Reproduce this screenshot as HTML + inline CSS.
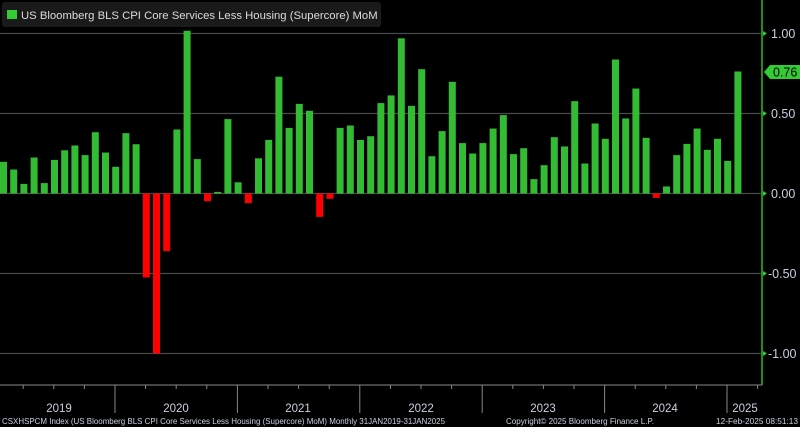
<!DOCTYPE html>
<html><head><meta charset="utf-8"><style>
html,body{margin:0;padding:0;background:#000;}
svg{display:block;font-family:"Liberation Sans",sans-serif;}
</style></head><body>
<svg id="c" width="800" height="427" viewBox="0 0 800 427" xmlns="http://www.w3.org/2000/svg">
<rect width="800" height="427" fill="#000"/>
<g stroke="#4a4a4a" stroke-width="1.3">
<line x1="0" y1="33.5" x2="762" y2="33.5"/>
<line x1="0" y1="113.5" x2="762" y2="113.5"/>
<line x1="0" y1="193.5" x2="762" y2="193.5"/>
<line x1="0" y1="273.5" x2="762" y2="273.5"/>
<line x1="0" y1="353.5" x2="762" y2="353.5"/>
</g>
<g id="bars"></g>
<rect x="2" y="2" width="379" height="25" rx="3" fill="#1a1a1a"/>
<rect x="7" y="10" width="10" height="9" fill="#33cc33"/>
<text x="21" y="19" font-size="11.3" fill="#dcdcdc">US Bloomberg BLS CPI Core Services Less Housing (Supercore) MoM</text>
<line x1="762" y1="0" x2="762" y2="385" stroke="#1e8c1e" stroke-width="2"/>
<g fill="#33cc33">
<polygon points="763,31 767,33.5 763,36"/>
<polygon points="763,111 767,113.5 763,116"/>
<polygon points="763,191 767,193.5 763,196"/>
<polygon points="763,271 767,273.5 763,276"/>
<polygon points="763,351 767,353.5 763,356"/>
<polygon points="764,72 770,65 800,65 800,79 770,79"/>
</g>
<g font-size="12.5" fill="#c8d0e0">
<text x="771" y="38">1.00</text>
<text x="771" y="118">0.50</text>
<text x="771" y="198">0.00</text>
<text x="768" y="278">-0.50</text>
<text x="768" y="358">-1.00</text>
</g>
<text x="773" y="76.5" font-size="12.5" fill="#000">0.76</text>
<line x1="0" y1="385" x2="762" y2="385" stroke="#888" stroke-width="1"/>
<g id="ticks" stroke="#888" stroke-width="1"></g>
<g font-size="11.5" fill="#c8d0e0" text-anchor="middle">
<text x="59" y="412">2019</text>
<text x="176" y="412">2020</text>
<text x="298" y="412">2021</text>
<text x="421" y="412">2022</text>
<text x="543" y="412">2023</text>
<text x="665" y="412">2024</text>
<text x="745" y="412">2025</text>
</g>
<g font-size="8" fill="#c8d0e0">
<text x="2" y="424" textLength="443" lengthAdjust="spacingAndGlyphs">CSXHSPCM Index (US Bloomberg BLS CPI Core Services Less Housing (Supercore) MoM)  Monthly 31JAN2019-31JAN2025</text>
<text x="506" y="424" textLength="148" lengthAdjust="spacingAndGlyphs">Copyright© 2025 Bloomberg Finance L.P.</text>
<text x="716" y="424" textLength="82" lengthAdjust="spacingAndGlyphs">12-Feb-2025 08:51:13</text>
</g>
</svg>
<script>
var v=[0.198,0.15,0.06,0.225,0.065,0.21,0.27,0.30,0.24,0.383,0.256,0.167,0.377,0.308,-0.525,-1.0,-0.36,0.40,1.017,0.215,-0.048,0.01,0.465,0.07,-0.06,0.22,0.335,0.73,0.41,0.56,0.517,-0.146,-0.033,0.41,0.425,0.335,0.358,0.565,0.613,0.97,0.548,0.777,0.233,0.39,0.698,0.315,0.25,0.315,0.406,0.49,0.246,0.283,0.09,0.177,0.352,0.294,0.577,0.1875,0.4375,0.342,0.8375,0.469,0.656,0.348,-0.027,0.044,0.24,0.31,0.406,0.273,0.342,0.204,0.7625];
var ns="http://www.w3.org/2000/svg",g=document.getElementById("bars"),z=193.5,s=160;
v.forEach(function(d,i){var r=document.createElementNS(ns,"rect");var x=i*10.2;var h=Math.abs(d)*s;
r.setAttribute("x",x);r.setAttribute("width",7);r.setAttribute("y",d>=0?z-h:z);r.setAttribute("height",Math.max(h,1.5));
r.setAttribute("fill",d>=0?"#33bb33":"#ff0000");g.appendChild(r);});
var t=document.getElementById("ticks");
for(var k=0;k<25;k++){var x=115+30.6*(k-3);if(x<0||x>762)continue;var l=document.createElementNS(ns,"line");
l.setAttribute("x1",x);l.setAttribute("x2",x);l.setAttribute("y1",385);l.setAttribute("y2",((k-3)%4==0)?413:389);t.appendChild(l);}
</script>
</body></html>
